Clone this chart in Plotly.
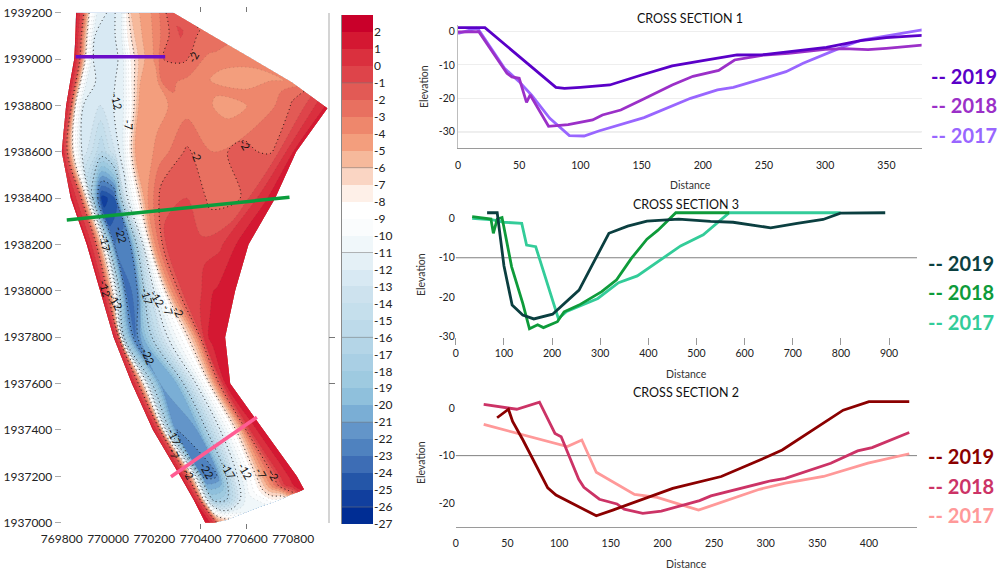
import plotly.graph_objects as go

W, H = 999, 572
FONT = "Lato"

# ---------- map: stations across the channel (one row per cross line) ----------
ROW_X = [
 [769862,769891,769923,769952,769995,770031,770060,770078,770103,770168,770240,770261,770271,770277,770283],
 [769859,769880,769914,769944,769995,770031,770060,770084,770122,770182,770240,770312,770362,770412,770444],
 [769854,769874,769906,769937,769995,770031,770067,770098,770139,770204,770240,770319,770427,770542,770624],
 [769836,769857,769885,769911,769980,770031,770067,770101,770139,770211,770240,770355,770513,770686,770794],
 [769819,769839,769862,769894,769966,770024,770067,770103,770132,770211,770340,770542,770715,770830,770948],
 [769800,769819,769854,769887,769973,770031,770067,770093,770117,770211,770340,770456,770542,770700,770813],
 [769839,769880,769911,769937,769973,770024,770074,770127,770160,770240,770340,770456,770571,770672,770722],
 [769908,769944,769980,770002,770031,770096,770139,770175,770196,770254,770312,770398,770484,770559,770607],
 [769966,769992,770024,770052,770081,770124,770168,770240,770268,770319,770384,770441,770470,770499,770549],
 [770024,770045,770055,770070,770117,770153,770240,770333,770376,770398,770420,770441,770456,770470,770506],
 [770103,770127,770156,770182,770225,770297,770355,770430,770463,770484,770496,770502,770507,770513,770528],
 [770194,770222,770240,770261,770297,770384,770456,770542,770578,770600,770614,770628,770643,770657,770672],
 [770312,770340,770369,770384,770412,770470,770542,770628,770672,770715,770744,770765,770780,770794,770816],
 [770369,770395,770415,770434,770456,770513,770571,770657,770700,770736,770765,770787,770801,770818,770837],
 [770420,770441,770463,770477,770513,770542,770592,770657,770708,770758,770787,770808,770823,770837,770847],
]
ROW_Y = [
 [1939200]*15,
 [1939100]*11 + [1939120,1939130,1939120,1939105],
 [1939000]*11 + [1939010,1939039,1939018,1939000],
 [1938900]*12 + [1938917,1938924,1938900],
 [1938800]*12 + [1938795,1938780,1938788],
 [1938600]*15,
 [1938400]*15,
 [1938200]*15,
 [1938000]*15,
 [1937800]*15,
 [1937600]*15,
 [1937400]*15,
 [1937200]*15,
 [1937100]*7 + [1937134,1937155,1937160,1937162,1937162,1937162,1937162,1937162],
 [1937000,1937000,1937000,1937004,1937012,1937023,1937043,1937069,1937086,1937105,1937119,1937127,1937132,1937139,1937144],
]
ROW_Z = [
 [1.4,-1,-8,-11,-12,-12,-11,-8,-5.5,-4.5,-2.5,-1.5,-1,-1,-1],
 [1.4,-1,-8,-12,-12.5,-12,-11,-8,-5.5,-4.3,-2.6,-0.8,-1.6,-2.2,-2.6],
 [1.4,-1,-8,-12,-12.5,-12.5,-11,-8,-5.5,-3.8,-2,-1.6,-2.8,-3.4,-3.6],
 [1.4,-1,-8,-11.5,-12.5,-12,-11,-8,-5,-4.3,-2.6,-3.4,-4.5,-4.4,-3.8],
 [1.4,-1,-8,-12,-13,-12,-11,-8,-5,-4.3,-3.5,-4.4,-3.2,-1.2,1.4],
 [1.4,-1,-8,-12,-16,-13,-11,-8,-5,-3.8,-1.8,-3,-1.6,-2.2,1.4],
 [1.4,-1,-8,-18,-25.5,-24.5,-13,-8,-4.5,-1.2,-1,-2.4,-2,0.8,1.4],
 [1.4,-1,-8,-17,-23,-22,-14,-8,-4.5,-0.8,-0.5,-0.7,-0.2,1.1,1.4],
 [1.4,-1,-8,-18,-23.5,-22.5,-15,-8,-4.5,-1,-0.5,0.9,1.1,1.2,1.4],
 [1.4,-1,-8,-17,-23,-20,-13,-8,-4.5,-2,0.8,1.1,1.2,1.3,1.4],
 [1.4,-1,-8,-16,-21,-20,-14,-8,-4,-1.5,0,0.5,1,1.2,1.4],
 [1.4,-1,-8,-16,-22,-21,-14,-8,-4.5,-1.5,0,0.5,1,1.2,1.4],
 [1.4,-1,-8,-14,-22.5,-22,-13,-8,-4.5,-2,0,0.5,1,1.2,1.4],
 [1.4,-1,-8,-14,-18,-17,-12,-8,-4.5,-2,0,0.5,1,1.2,1.4],
 [1.4,1,-0.5,-4,-6.5,-8,-10,-11,-9,-8,-4,-2,0,1,1.4],
]

# band colours from the top of the colour bar (2..3) to the bottom (-27..-26)
BAND_COLORS = ["#c9002a","#d41832","#da303e","#de444a","#e25a55","#e87060","#ee876c","#f39e7d",
               "#f6b99b","#fad5c3","#fef0e8","#ffffff","#fafcfd","#f0f7fa","#e4f0f6","#d8e9f3",
               "#cde2ee","#c5dfec","#bddaea","#b4d5e7","#a9cfe4","#9ecae0","#8fc0dc","#7aaed5",
               "#6395c9","#4f82bf","#3d6db5","#2456a8","#113f9e","#002d94"]
COLORBAR_LEVELS = list(range(2, -28, -1))
COLORBAR_GRID = [-1, -6, -11, -16, -21, -26]

LABEL_TEXT = ["-2","-2","-2","-12","-7","-22","-17","-12","-12","-17","-12","-7","-2","-22",
              "-17","-7","-2","-22","-17","-12","-7","-2"]
LABEL_X = [770366,770592,770384,770038,770088,770060,769988,769988,770031,770168,770214,770261,770304,
           770175,770286,770286,770348,770427,770520,770592,770660,770715]
LABEL_Y = [1939008,1938632,1938586,1938816,1938716,1938241,1938208,1938011,1937953,1937975,1937968,
           1937917,1937910,1937719,1937371,1937299,1937213,1937224,1937224,1937224,1937216,1937210]
LABEL_ANGLE = [-60,60,70,75,85,75,80,75,60,75,60,70,65,65,65,65,60,60,60,60,60,60]

SEC1_X, SEC1_Y = [769860, 770247], [1939010, 1939010]
SEC3_X, SEC3_Y = [769822, 770784], [1938306, 1938404]
SEC2_X, SEC2_Y = [770272, 770643], [1937198, 1937455]

# ---------- cross sections ----------
CS1_2019_D = [0,22,80,87,100,124,150,175,200,228,250,268,301,329,350,380]
CS1_2019_E = [1.2,1.2,-16.7,-17,-16.7,-16,-13,-10.3,-8.7,-7,-6.9,-6.2,-4.7,-2.7,-1.8,-1.1]
CS1_2018_D = [0,16,17,40,44,50,56,59,74,90,110,118,133,150,175,192,213,226,250,270,300,315,335,350,380]
CS1_2018_E = [-0.1,0,0,-12.5,-13.6,-14,-21.2,-19,-28.4,-27.9,-26.5,-25,-23.5,-20.5,-16,-13.4,-11.6,-8.5,-7,-6.5,-5.3,-5.1,-5.4,-5,-4]
CS1_2017_D = [0,15,17,38,50,60,75,91,103,115,152,175,190,212,225,250,268,282,300,315,330,350,380]
CS1_2017_E = [-0.5,1,0.5,-11,-15,-19,-26,-31.2,-31.3,-29.8,-25.8,-22.2,-20,-17.5,-16.7,-14,-12,-9.5,-6.8,-4.5,-2.5,-1.2,0.6]

CS3_2019_D = [65,86,100,117,139,162,201,256,287,318,357,397,463,529,576,654,709,763,799,892]
CS3_2019_E = [1.4,1.4,-12,-22,-24.5,-25.5,-24.3,-18.2,-11,-3.8,-2,-0.7,-0.2,-0.8,-1,-2.4,-1.3,-0.3,1.3,1.4]
CS3_2018_D = [34,73,78,86,96,116,139,153,170,182,211,225,256,303,334,365,397,420,457,568]
CS3_2018_E = [0.4,-0.2,-3.8,-0.2,0.2,-12.3,-21.5,-28,-27,-27.7,-26.2,-23.7,-22,-18.6,-15.6,-10.1,-5.3,-3,1.4,1.4]
CS3_2017_D = [34,77,100,137,147,166,213,229,295,338,377,436,467,514,568,799]
CS3_2017_E = [0,-0.4,-1,-1.3,-6.8,-7.2,-25.4,-23.7,-20.3,-16.3,-14.6,-9.7,-7,-4.2,1.4,1.4]

CS2_2019_D = [40,51,55,65,89,97,136,152,210,257,301,316,375,400,439]
CS2_2019_E = [-2,-0.2,-2.8,-6.7,-16.8,-18.3,-22.7,-21.5,-16.9,-14.4,-10.3,-8.8,-0.4,1.4,1.4]
CS2_2018_D = [27,59,81,96,102,119,124,139,156,163,181,199,236,247,305,319,363,389,403,439]
CS2_2018_E = [0.8,-0.2,1.3,-5.3,-6,-15,-16.7,-19.2,-20.2,-21.3,-22.2,-21.7,-19.5,-18.5,-15.3,-14.8,-11.6,-9,-8.3,-5.1]
CS2_2017_D = [27,108,122,136,173,195,235,294,319,356,399,439]
CS2_2017_E = [-3.4,-8.1,-6.7,-13.5,-18.2,-18.8,-21.5,-17.1,-15.8,-14.4,-11.6,-9.6]

YEARS = ["2019", "2018", "2017"]
CS1_COLORS = ["#5a00c8", "#9b30c8", "#9966ff"]
CS3_COLORS = ["#0b3f40", "#0e9b3a", "#33cc99"]
CS2_COLORS = ["#8b0000", "#cc3366", "#ff9999"]
SEC_COLORS = ["#6a0dc8", "#0a9d3c", "#ff5c93"]


def dx(a, b):
    return [a / W, b / W]


def dy(top, bottom):
    return [1 - bottom / H, 1 - top / H]


# step colour scale, low to high
asc = BAND_COLORS[::-1]
n = len(asc)
STEP = []
for i, c in enumerate(asc):
    STEP += [[i / n, c], [(i + 1) / n, c]]

fig = go.Figure()

nr, nc = len(ROW_X), len(ROW_X[0])
A = list(range(nc))
B = list(range(nr))
hidden = dict(showgrid=False, showticklabels="none", showline=False, startline=False, endline=False,
              minorgridcount=0, smoothing=0)
fig.add_trace(go.Carpet(carpet="c1", a=A, b=B, x=ROW_X, y=ROW_Y, aaxis=hidden, baxis=hidden,
                        xaxis="x", yaxis="y"))
fig.add_trace(go.Contourcarpet(carpet="c1", a=A, b=B, z=ROW_Z, autocontour=False,
                               contours=dict(start=-27, end=3, size=1, coloring="fill", showlines=False),
                               colorscale=STEP, zmin=-27, zmax=3, showscale=False, line=dict(width=0),
                               xaxis="x", yaxis="y"))
fig.add_trace(go.Contourcarpet(carpet="c1", a=A, b=B, z=ROW_Z, autocontour=False,
                               contours=dict(start=-26, end=1, size=1, coloring="none"),
                               line=dict(color="rgba(60,60,60,0.3)", width=0.6, dash="1px,3px"),
                               showscale=False, xaxis="x", yaxis="y"))
fig.add_trace(go.Contourcarpet(carpet="c1", a=A, b=B, z=ROW_Z, autocontour=False,
                               contours=dict(start=-22, end=-2, size=5, coloring="none"),
                               line=dict(color="rgba(0,0,0,0.75)", width=1, dash="1px,3px"),
                               showscale=False, xaxis="x", yaxis="y"))

for sx, sy, col in zip([SEC1_X, SEC3_X, SEC2_X], [SEC1_Y, SEC3_Y, SEC2_Y], SEC_COLORS):
    fig.add_trace(go.Scatter(x=sx, y=sy, mode="lines", line=dict(color=col, width=3.5),
                             xaxis="x", yaxis="y", showlegend=False, cliponaxis=False))

# carrier for the right-hand frame line and its ticks
fig.add_trace(go.Scatter(x=SEC1_X, y=SEC1_Y, mode="none", xaxis="x", yaxis="y6", showlegend=False, hoverinfo="skip"))

annotations = []
for t, x, y, ang in zip(LABEL_TEXT, LABEL_X, LABEL_Y, LABEL_ANGLE):
    annotations.append(dict(text=t, x=x, y=y, xref="x", yref="y", showarrow=False, textangle=ang,
                            font=dict(family=FONT, size=11, color="#111")))

# colour bar drawn on its own small axes
bar_y = [lv - 0.5 for lv in range(-26, 4)]
fig.add_trace(go.Heatmap(x=[0], y=bar_y, z=[[v] for v in bar_y], colorscale=STEP, zmin=-27, zmax=3,
                         showscale=False, xaxis="x5", yaxis="y5"))
gx, gy = [], []
for lv in COLORBAR_GRID:
    gx += [-0.5, 0.5, None]
    gy += [lv, lv, None]
fig.add_trace(go.Scatter(x=gx, y=gy, mode="lines", line=dict(color="rgba(120,120,120,0.55)", width=1),
                         xaxis="x5", yaxis="y5", showlegend=False))
fig.add_trace(go.Scatter(x=[-0.5, -0.5], y=[-27, 3], mode="lines", line=dict(color="#8a8a8a", width=2),
                         xaxis="x5", yaxis="y5", showlegend=False, cliponaxis=False))

panels = [
    ("2", [(CS1_2019_D, CS1_2019_E), (CS1_2018_D, CS1_2018_E), (CS1_2017_D, CS1_2017_E)], CS1_COLORS),
    ("3", [(CS3_2019_D, CS3_2019_E), (CS3_2018_D, CS3_2018_E), (CS3_2017_D, CS3_2017_E)], CS3_COLORS),
    ("4", [(CS2_2019_D, CS2_2019_E), (CS2_2018_D, CS2_2018_E), (CS2_2017_D, CS2_2017_E)], CS2_COLORS),
]
for idx, series, cols in panels:
    order = [2, 1, 0]
    for k in order:
        d, e = series[k]
        fig.add_trace(go.Scatter(x=d, y=e, mode="lines", line=dict(color=cols[k], width=2.8),
                                 xaxis="x" + idx, yaxis="y" + idx, showlegend=False, name=YEARS[k],
                                 cliponaxis=False))

tf = dict(family=FONT, size=10.5, color="#222")
lab = dict(family=FONT, size=10.5, color="#333")


def chart_axes(xdom, ydom, xr, yr, xticks, yticks, anchor_x, anchor_y, xline, yline, tick_color, grid):
    xa = dict(domain=dx(*xdom), range=xr, tickvals=xticks, anchor=anchor_y, showgrid=False, zeroline=False,
              showline=xline, linecolor="#9a9a9a", linewidth=1, ticks="outside", ticklen=7,
              tickcolor=tick_color, tickfont=tf, automargin=False)
    ya = dict(domain=dy(*ydom), range=yr, tickvals=yticks, ticktext=[str(v) for v in yticks], anchor=anchor_x,
              showgrid=grid, gridcolor="#eeeeee", zeroline=False, showline=yline, linecolor="#bdbdbd", linewidth=1,
              ticks="", tickfont=tf, automargin=False)
    return xa, ya


x2, y2 = chart_axes((458, 921.6), (25, 148.3), [0, 378.8], [-35, 2], [0, 50, 100, 150, 200, 250, 300, 350],
                    [0, -10, -20, -30], "x2", "y2", True, True, "rgba(0,0,0,0)", True)
x3, y3 = chart_axes((455.8, 917), (210.4, 336.7), [0, 958], [-30, 2], [0, 100, 200, 300, 400, 500, 600, 700, 800, 900],
                    [0, -10, -20, -30], "x3", "y3", False, False, "#999999", False)
x4, y4 = chart_axes((455.8, 917), (398.8, 526.7), [0, 446.5], [-25, 2], [0, 50, 100, 150, 200, 250, 300, 350, 400],
                    [0, -10, -20], "x4", "y4", True, False, "rgba(0,0,0,0)", False)

shapes = []
for xname, yname, level in [("x2", "y2", -30), ("x3", "y3", -10), ("x4", "y4", -10)]:
    shapes.append(dict(type="line", xref=xname + " domain", yref=yname, x0=0, x1=1, y0=level, y1=level,
                       line=dict(color="#808080", width=1), layer="below"))

TITLES = [("CROSS SECTION 1", 690, 18.5), ("CROSS SECTION 3", 686, 204), ("CROSS SECTION 2", 686, 392.5)]
for t, px, py in TITLES:
    annotations.append(dict(text=t, x=px / W, y=1 - py / H, xref="paper", yref="paper", showarrow=False,
                            xanchor="center", yanchor="middle", font=dict(family=FONT, size=12.5, color="#111")))

DIST_LABELS = [(690, 185), (686, 374), (686, 564)]
for px, py in DIST_LABELS:
    annotations.append(dict(text="Distance", x=px / W, y=1 - py / H, xref="paper", yref="paper", showarrow=False,
                            xanchor="center", yanchor="middle", font=lab))
ELEV_LABELS = [(424, 87), (421, 275), (421, 463)]
for px, py in ELEV_LABELS:
    annotations.append(dict(text="Elevation", x=px / W, y=1 - py / H, xref="paper", yref="paper", showarrow=False,
                            xanchor="center", yanchor="middle", textangle=-90, font=lab))

LEGEND_ROWS = [(929, [76, 105, 135], CS1_COLORS), (926, [263, 292, 322], CS3_COLORS), (926, [456, 486, 515], CS2_COLORS)]
for px, pys, cols in LEGEND_ROWS:
    for yr, py, c in zip(YEARS, pys, cols):
        annotations.append(dict(text="<b>-- " + yr + "</b>", x=px / W, y=1 - py / H, xref="paper", yref="paper",
                                xanchor="left", yanchor="middle", showarrow=False,
                                font=dict(family=FONT, size=20, color=c)))

mapfont = dict(family=FONT, size=12, color="#222")
map_xr = [769800, 770949]
map_yr = [1937000, 1939200]
fig.update_layout(
    width=W, height=H, autosize=False, margin=dict(l=0, r=0, t=0, b=0, autoexpand=False),
    paper_bgcolor="white", plot_bgcolor="white", showlegend=False,
    xaxis=dict(domain=dx(61.7, 327.7), range=map_xr, tickvals=list(range(769800, 770801, 200)),
               ticks="outside", ticklen=5, tickcolor="rgba(0,0,0,0)", tickfont=mapfont, showgrid=False, zeroline=False,
               showline=True, linecolor="rgba(0,0,0,0)", mirror="ticks", anchor="y", tickformat="d", automargin=False,
               minor=dict(tickvals=[770400, 770600], ticks="outside", ticklen=5, tickcolor="#777", showgrid=False)),
    yaxis=dict(domain=dy(12.7, 522.7), range=map_yr, tickvals=list(range(1937000, 1939201, 200)),
               ticks="outside", ticklen=6, tickcolor="#aaa", tickfont=mapfont, showgrid=False, zeroline=False,
               showline=False, anchor="x", tickformat="d", automargin=False),
    yaxis6=dict(overlaying="y", range=map_yr, side="right", anchor="x", tickvals=[1937600, 1937800],
                ticks="outside", ticklen=6, tickcolor="#777", showticklabels=False, showgrid=False, zeroline=False,
                showline=True, linecolor="#d4d4d4", linewidth=1.5, automargin=False),
    xaxis2=x2, yaxis2=y2, xaxis3=x3, yaxis3=y3, xaxis4=x4, yaxis4=y4,
    xaxis5=dict(domain=dx(341, 373), range=[-0.5, 0.5], visible=False, anchor="y5"),
    yaxis5=dict(domain=dy(15, 524), range=[-27, 3], side="right", anchor="x5", tickvals=COLORBAR_LEVELS,
                ticktext=[str(v) for v in COLORBAR_LEVELS],
                ticks="", tickfont=dict(family=FONT, size=12, color="#222"), showgrid=False, zeroline=False,
                showline=False, automargin=False),
    annotations=annotations, shapes=shapes,
)
fig.write_html("out.html", config=dict(displayModeBar=False),
               post_script="document.body.style.margin='0';document.body.style.overflow='hidden';")
